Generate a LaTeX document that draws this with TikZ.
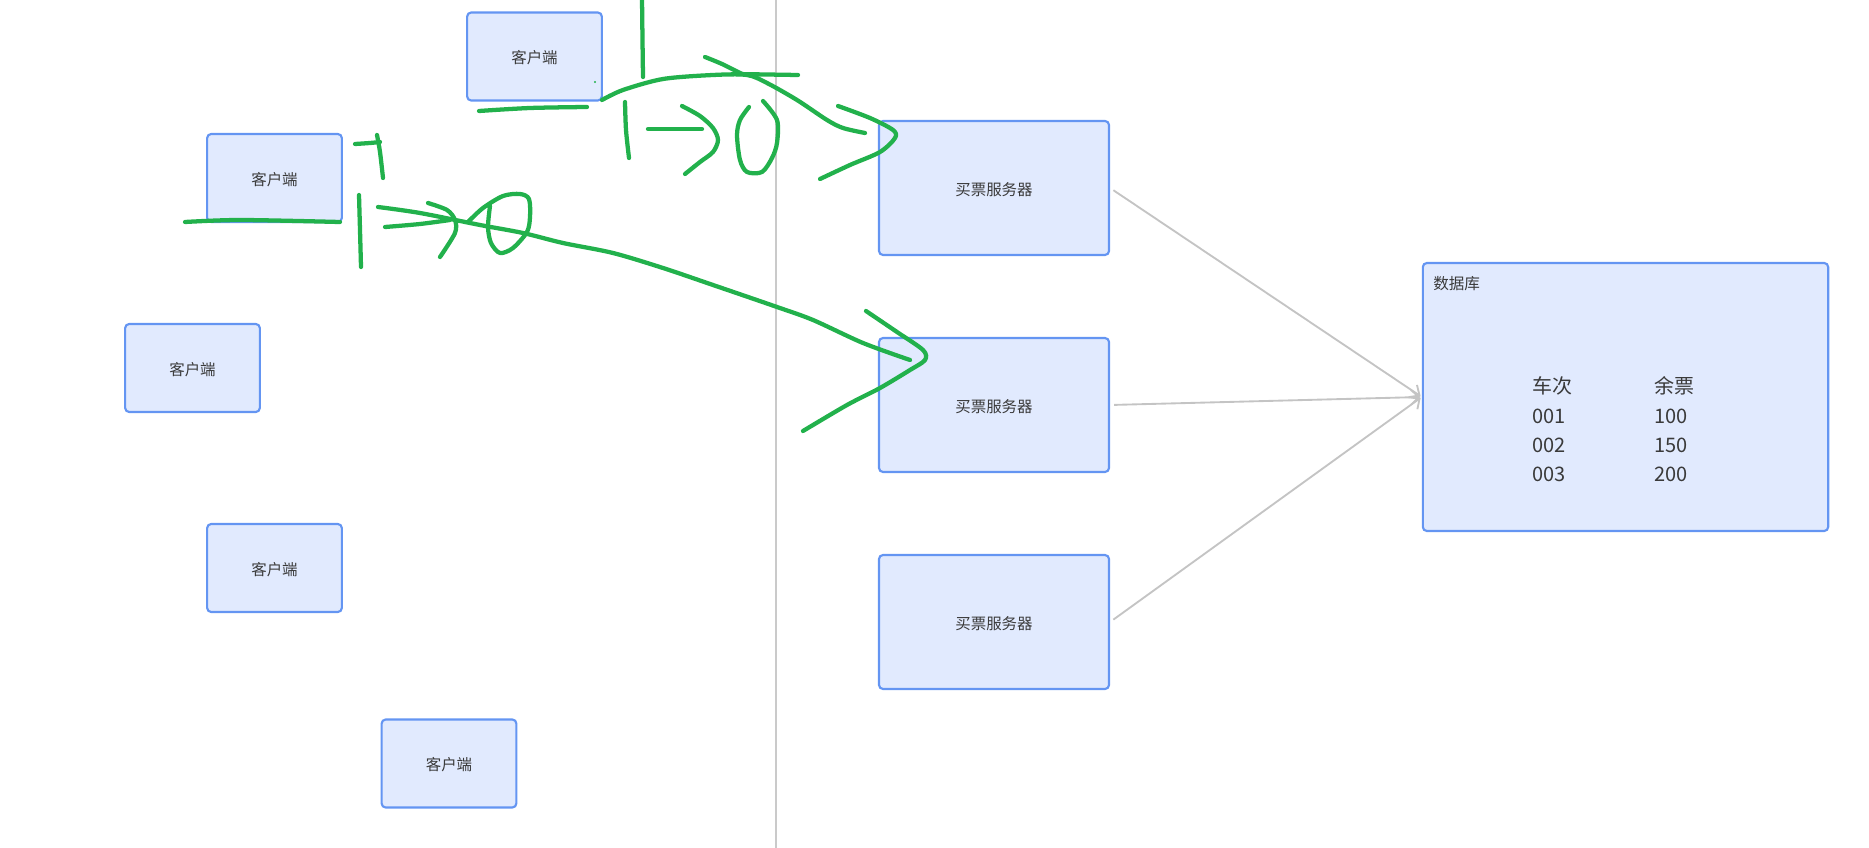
\documentclass[tikz,border=0pt]{standalone}
\usepackage{fontspec}
\setmainfont{Noto Sans CJK SC}
\usetikzlibrary{arrows.meta}
\definecolor{boxfill}{HTML}{E1EAFE}
\definecolor{boxline}{HTML}{6495F2}
\definecolor{inkgray}{HTML}{3A3A3A}
\definecolor{linkgray}{HTML}{C4C4C4}
\definecolor{pengreen}{HTML}{22B14C}

\begin{document}
\begin{tikzpicture}[
	  x=0.75pt, y=-0.75pt,
	  client/.style={rectangle, rounded corners=3pt, minimum width=101pt, minimum height=66pt, draw=boxline, line width=1.6pt, fill=boxfill, text=inkgray, text height=1.15em, text depth=0.08em, font=\fontsize{11.6}{14}\selectfont},
	  server/.style={client, minimum width=172.5pt, minimum height=100.5pt},
	  database/.style={client, minimum width=304pt, minimum height=201pt},
	  link/.style={draw=linkgray, line width=1.4pt, -{Straight Barb[length=6pt,width=11pt]}, shorten <=3pt, shorten >=1pt},
	  pen/.style={draw=pengreen, line width=3.2pt, line cap=round, line join=round}
	]

	\useasboundingbox (0,0) rectangle (1869,848);

	\draw [draw=linkgray!90, line width=1.6pt] (776,0) -- (776,848);

	\node (client1) [client] at (534.5,56.5) {客户端};
	\node (client2) [client] at (274.5,178) {客户端};
	\node (client3) [client] at (192.5,368) {客户端};
	\node (client4) [client] at (274.5,568) {客户端};
	\node (client5) [client] at (449,763.5) {客户端};

	\node (server1) [server] at (994,188) {买票服务器};
	\node (server2) [server] at (994,405) {买票服务器};
	\node (server3) [server] at (994,622) {买票服务器};

	\node (db) [database] at (1625.5,397) {};
	\node (dbtitle) [anchor=west, text=inkgray, inner sep=0pt, font=\fontsize{11.7}{14}\selectfont] at (1433,284) {数据库};
	\node (dbtable) [anchor=north west, text=inkgray, inner sep=0pt] at (1532,373) {\fontsize{15}{22}\selectfont
		\begin{tabular}{@{}p{91.5pt}@{}l@{}}
		车次 & 余票\\
		001 & 100\\
		002 & 150\\
		003 & 200
		\end{tabular}};

	\draw [link] (server1.east) -- (db.west);
	\draw [link] (server2.east) -- (db.west);
	\draw [link] (server3.east) -- (db.west);

	% strokes over client1
	\draw [pen] plot[smooth] coordinates {(642,-2) (642.5,40) (643,77)};
	\draw [pen] plot[smooth] coordinates {(479,111) (530,108) (587,107)};
	\draw [pen] plot[smooth] coordinates {(602,100) (623,90) (663,79) (713,75) (747,75) (767,83) (797,100) (827,120) (843,128) (865,133)};
	\draw [pen] plot[smooth] coordinates {(705,57) (722,64) (742,74)};
	\draw [pen] (735,74) -- (798,75);
	\draw [pen] plot[smooth] coordinates {(838,106) (870,118) (893,130) (895,138) (880,152) (850,165) (820,179)};
	\draw [pen] plot[smooth] coordinates {(625,102) (626,130) (629,158)};
	\draw [pen] (648,129) -- (702,129);
	\draw [pen] plot[smooth] coordinates {(682,106) (700,116) (713,128) (718,140) (713,152) (700,162) (685,174)};
	\draw [pen] plot[smooth] coordinates {(749,107) (740,120) (737,135) (740,160) (747,172) (762,172) (772,158) (777,143) (777,120) (763,101)};
	\fill [pengreen] (595,82) circle (0.9pt);

	% strokes over client2
	\draw [pen] plot[smooth] coordinates {(185,222) (240,220) (340,222)};
	\draw [pen] plot[smooth] coordinates {(355,144) (370,143) (380,142)};
	\draw [pen] plot[smooth] coordinates {(377,135) (380,152) (383,178)};
	\draw [pen] plot[smooth] coordinates {(359,195) (360,230) (361,267)};
	\draw [pen] plot[smooth] coordinates {(378,207) (420,213) (480,225) (523,233) (563,243) (613,253) (663,268) (713,285) (777,307) (813,320) (863,343) (910,360)};
	\draw [pen] plot[smooth] coordinates {(385,227) (420,224) (450,220)};
	\draw [pen] plot[smooth] coordinates {(428,203) (447,210) (455,220) (455,233) (440,257)};
	\draw [pen] plot[smooth] coordinates {(468,222) (483,208) (503,196) (520,194) (529,199) (530,217) (527,232) (513,248) (500,253) (491,243) (488,227) (490,206)};
	\draw [pen] plot[smooth] coordinates {(866,311) (897,332) (923,350) (925,360) (910,370) (880,388) (847,405) (803,431)};

\end{tikzpicture}
\end{document}
